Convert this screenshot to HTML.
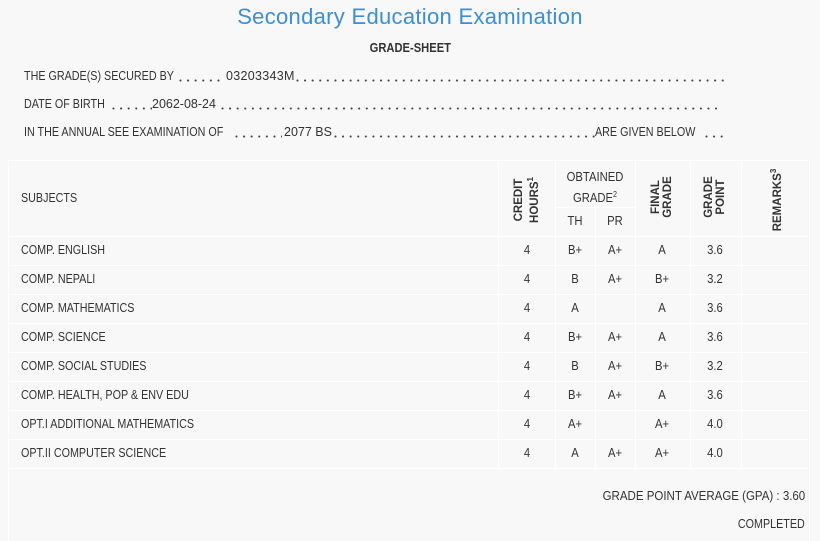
<!DOCTYPE html>
<html><head><meta charset="utf-8"><style>
body{margin:0;width:820px;height:541px;background:#f8f8f8;font-family:"Liberation Sans",sans-serif;color:#333;font-size:12.5px;position:relative;overflow:hidden}
.a{position:absolute;white-space:nowrap}
.n{display:inline-block;transform:scaleX(.86);transform-origin:left center}
.nr{transform-origin:right center}
.t{left:0;width:820px;text-align:center;top:4px;font-size:22px;color:#3b8fd6;letter-spacing:0.3px}
.h{left:0;width:820px;text-align:center;top:40px;font-weight:bold;font-size:13px}
.vl{position:absolute;width:1px;background:#fff}
.hl{position:absolute;height:1px;background:#fff;left:8px;width:802px}
.c{position:absolute;text-align:center;transform:translateX(-50%) scaleX(.9)}
.r{position:absolute;text-align:center;transform:translate(-50%,-50%) rotate(-90deg);font-weight:bold;font-size:11.5px;line-height:12px}
sup{font-size:8px}
.dt{position:absolute;height:3px;background:radial-gradient(circle at 1.5px 1.5px,#444 0.85px,transparent 1.2px) repeat-x;background-size:7.6px 3px}
</style></head><body>
<div class="a t">Secondary Education Examination</div>
<div class="a h"><span class="n" style="transform-origin:center">GRADE-SHEET</span></div>

<div class="a" style="left:24px;top:69px"><span class="n">THE GRADE(S) SECURED BY</span></div>
<div class="dt" style="left:179px;top:79px;width:46px"></div>
<div class="a" style="left:226px;top:69px;letter-spacing:0.3px">03203343M</div>
<div class="dt" style="left:296px;top:79px;width:432px"></div>

<div class="a" style="left:24px;top:97px"><span class="n">DATE OF BIRTH</span></div>
<div class="dt" style="left:112px;top:107px;width:40px"></div>
<div class="a" style="left:152px;top:97px">2062-08-24</div>
<div class="dt" style="left:221px;top:107px;width:496px"></div>

<div class="a" style="left:24px;top:125px"><span class="n">IN THE ANNUAL SEE EXAMINATION OF</span></div>
<div class="dt" style="left:235px;top:135px;width:47px"></div>
<div class="a" style="left:284px;top:125px">2077 BS</div>
<div class="dt" style="left:334px;top:135px;width:262px"></div>
<div class="a" style="left:595px;top:125px"><span class="n">ARE GIVEN BELOW</span></div>
<div class="dt" style="left:705px;top:135px;width:22px"></div>

<div class="hl" style="top:160px"></div>
<div class="hl" style="top:236px"></div>
<div class="hl" style="top:265px"></div><div class="hl" style="top:294px"></div><div class="hl" style="top:323px"></div><div class="hl" style="top:352px"></div><div class="hl" style="top:381px"></div><div class="hl" style="top:410px"></div><div class="hl" style="top:439px"></div><div class="hl" style="top:468px"></div>
<div class="hl" style="top:207px;left:555px;width:80px"></div>
<div class="vl" style="left:8px;top:160px;height:381px"></div>
<div class="vl" style="left:809px;top:160px;height:381px"></div>
<div class="vl" style="left:498px;top:160px;height:308px"></div>
<div class="vl" style="left:555px;top:160px;height:308px"></div>
<div class="vl" style="left:595px;top:207px;height:261px"></div>
<div class="vl" style="left:635px;top:160px;height:308px"></div>
<div class="vl" style="left:690px;top:160px;height:308px"></div>
<div class="vl" style="left:741px;top:160px;height:308px"></div>

<div class="a" style="left:21px;top:191px"><span class="n">SUBJECTS</span></div>
<div class="r" style="left:527px;top:200px">CREDIT<br>HOURS<sup>1</sup></div>
<div class="c" style="left:595px;top:169px;line-height:17px">OBTAINED<br>GRADE<sup>2</sup></div>
<div class="c" style="left:575px;top:214px">TH</div>
<div class="c" style="left:615px;top:214px">PR</div>
<div class="r" style="left:662px;top:197px">FINAL<br>GRADE</div>
<div class="r" style="left:715px;top:197px">GRADE<br>POINT</div>
<div class="r" style="left:776px;top:200px">REMARKS<sup>3</sup></div>

<div class="a" style="right:15px;top:489px"><span class="n nr" style="transform:scaleX(.92)">GRADE POINT AVERAGE (GPA) : 3.60</span></div>
<div class="a" style="right:15px;top:517px"><span class="n nr">COMPLETED</span></div>

<div class="a" style="left:21px;top:243px"><span class="n">COMP. ENGLISH</span></div>
<div class="c" style="left:527px;top:243px">4</div><div class="c" style="left:575px;top:243px">B+</div><div class="c" style="left:615px;top:243px">A+</div><div class="c" style="left:662px;top:243px">A</div><div class="c" style="left:715px;top:243px">3.6</div>
<div class="a" style="left:21px;top:272px"><span class="n">COMP. NEPALI</span></div>
<div class="c" style="left:527px;top:272px">4</div><div class="c" style="left:575px;top:272px">B</div><div class="c" style="left:615px;top:272px">A+</div><div class="c" style="left:662px;top:272px">B+</div><div class="c" style="left:715px;top:272px">3.2</div>
<div class="a" style="left:21px;top:301px"><span class="n">COMP. MATHEMATICS</span></div>
<div class="c" style="left:527px;top:301px">4</div><div class="c" style="left:575px;top:301px">A</div><div class="c" style="left:662px;top:301px">A</div><div class="c" style="left:715px;top:301px">3.6</div>
<div class="a" style="left:21px;top:330px"><span class="n">COMP. SCIENCE</span></div>
<div class="c" style="left:527px;top:330px">4</div><div class="c" style="left:575px;top:330px">B+</div><div class="c" style="left:615px;top:330px">A+</div><div class="c" style="left:662px;top:330px">A</div><div class="c" style="left:715px;top:330px">3.6</div>
<div class="a" style="left:21px;top:359px"><span class="n">COMP. SOCIAL STUDIES</span></div>
<div class="c" style="left:527px;top:359px">4</div><div class="c" style="left:575px;top:359px">B</div><div class="c" style="left:615px;top:359px">A+</div><div class="c" style="left:662px;top:359px">B+</div><div class="c" style="left:715px;top:359px">3.2</div>
<div class="a" style="left:21px;top:388px"><span class="n">COMP. HEALTH, POP &amp; ENV EDU</span></div>
<div class="c" style="left:527px;top:388px">4</div><div class="c" style="left:575px;top:388px">B+</div><div class="c" style="left:615px;top:388px">A+</div><div class="c" style="left:662px;top:388px">A</div><div class="c" style="left:715px;top:388px">3.6</div>
<div class="a" style="left:21px;top:417px"><span class="n">OPT.I ADDITIONAL MATHEMATICS</span></div>
<div class="c" style="left:527px;top:417px">4</div><div class="c" style="left:575px;top:417px">A+</div><div class="c" style="left:662px;top:417px">A+</div><div class="c" style="left:715px;top:417px">4.0</div>
<div class="a" style="left:21px;top:446px"><span class="n">OPT.II COMPUTER SCIENCE</span></div>
<div class="c" style="left:527px;top:446px">4</div><div class="c" style="left:575px;top:446px">A</div><div class="c" style="left:615px;top:446px">A+</div><div class="c" style="left:662px;top:446px">A+</div><div class="c" style="left:715px;top:446px">4.0</div>
</body></html>
